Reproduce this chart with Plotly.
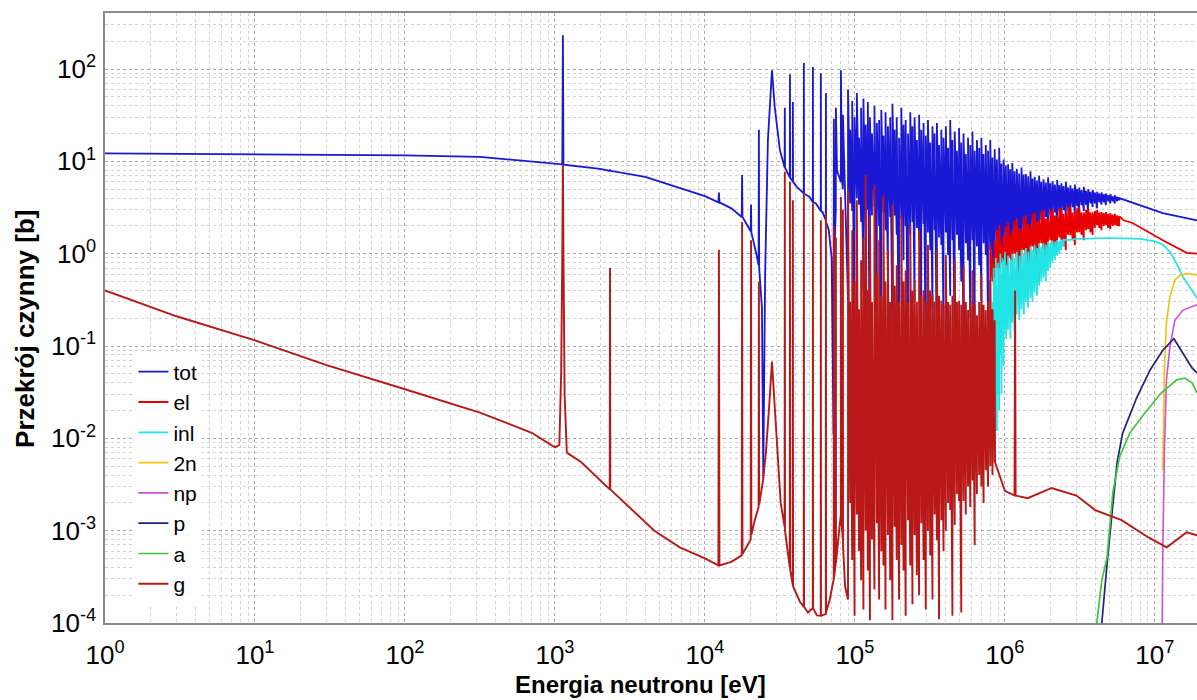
import plotly.graph_objects as go

# ---------------- tick labels ----------------
x_tick_vals = [1e0, 1e1, 1e2, 1e3, 1e4, 1e5, 1e6, 1e7]
x_tick_text = ["10<sup>0</sup>", "10<sup>1</sup>", "10<sup>2</sup>", "10<sup>3</sup>",
               "10<sup>4</sup>", "10<sup>5</sup>", "10<sup>6</sup>", "10<sup>7</sup>"]
y_tick_vals = [1e-4, 1e-3, 1e-2, 1e-1, 1e0, 1e1, 1e2]
y_tick_text = ["10<sup>-4</sup>", "10<sup>-3</sup>", "10<sup>-2</sup>", "10<sup>-1</sup>",
               "10<sup>0</sup>", "10<sup>1</sup>", "10<sup>2</sup>"]

# ---------------- resonance-forest energy grid (eV), 123 resonances ----------------
forest_E = [9.0e4, 9.3e4, 9.6e4, 9.95e4, 1.03e5, 1.065e5, 1.10e5, 1.14e5, 1.18e5, 1.22e5,
            1.26e5, 1.30e5, 1.35e5, 1.40e5, 1.45e5, 1.50e5, 1.55e5, 1.60e5, 1.66e5, 1.72e5,
            1.78e5, 1.84e5, 1.90e5, 1.97e5, 2.04e5, 2.11e5, 2.18e5, 2.26e5, 2.34e5, 2.42e5,
            2.50e5, 2.59e5, 2.68e5, 2.77e5, 2.87e5, 2.97e5, 3.07e5, 3.18e5, 3.29e5, 3.40e5,
            3.52e5, 3.64e5, 3.77e5, 3.90e5, 4.04e5, 4.18e5, 4.32e5, 4.47e5, 4.63e5, 4.79e5,
            4.95e5, 5.12e5, 5.30e5, 5.49e5, 5.68e5, 5.88e5, 6.08e5, 6.29e5, 6.51e5, 6.74e5,
            6.97e5, 7.21e5, 7.46e5, 7.72e5, 7.99e5, 8.27e5, 8.55e5, 8.85e5, 9.16e5, 9.47e5,
            9.80e5, 1.014e6, 1.05e6, 1.085e6, 1.12e6, 1.16e6, 1.20e6, 1.245e6, 1.29e6, 1.335e6,
            1.38e6, 1.43e6, 1.48e6, 1.53e6, 1.58e6, 1.635e6, 1.69e6, 1.75e6, 1.81e6, 1.875e6,
            1.94e6, 2.01e6, 2.08e6, 2.155e6, 2.23e6, 2.305e6, 2.38e6, 2.465e6, 2.55e6, 2.64e6,
            2.73e6, 2.83e6, 2.93e6, 3.03e6, 3.13e6, 3.245e6, 3.36e6, 3.475e6, 3.59e6, 3.72e6,
            3.85e6, 3.985e6, 4.12e6, 4.265e6, 4.41e6, 4.565e6, 4.72e6, 4.885e6, 5.05e6, 5.23e6,
            5.41e6, 5.6e6, 5.79e6]

# ---------------- tot ----------------
tot_low_E = [1, 10, 100, 316, 700, 1.05e3, 1.12e3, 1.13e3, 1.14e3, 2.0e3,
             2.32e3, 2.33e3, 2.34e3, 4.0e3, 6.8e3, 1.0e4, 1.23e4, 1.24e4, 1.25e4, 1.5e4,
             1.76e4, 1.77e4, 1.78e4, 2.02e4, 2.03e4, 2.04e4, 2.2e4, 2.28e4, 2.29e4, 2.30e4,
             2.40e4, 2.45e4, 2.52e4, 2.63e4, 2.80e4, 2.92e4, 3.16e4, 3.40e4, 3.41e4, 3.42e4,
             3.68e4, 3.69e4, 3.70e4, 3.85e4, 3.86e4, 3.87e4, 4.1e4, 4.56e4, 4.57e4, 4.58e4,
             5.0e4, 5.24e4, 5.25e4, 5.26e4, 5.5e4, 5.92e4, 5.93e4, 5.94e4, 6.1e4, 6.40e4,
             6.41e4, 6.42e4, 6.7e4, 7.0e4, 7.2e4, 7.23e4, 7.24e4, 7.3e4, 7.46e4, 7.47e4,
             7.6e4, 8.06e4, 8.07e4, 8.2e4, 8.31e4, 8.32e4, 8.6e4]
tot_low_sig = [12.2, 12.0, 11.6, 11.2, 10.0, 9.4, 9.3, 233, 9.2, 8.3,
               7.9, 8.2, 7.9, 6.8, 5.1, 4.2, 3.6, 4.6, 3.6, 3.1,
               2.5, 7.1, 2.5, 1.75, 3.4, 1.7, 1.0, 0.75, 22, 0.7,
               0.26, 0.0038, 0.6, 17, 97, 39, 13.3, 8.6, 38, 8.5,
               6.7, 88, 6.6, 6.1, 44, 6.0, 5.3, 4.5, 116, 4.5,
               4.1, 3.6, 105, 3.6, 3.5, 2.9, 90, 2.9, 2.8, 2.3,
               55, 2.2, 1.8, 0.9, 0.011, 0.5, 29, 1.0, 3.0, 38,
               8.0, 6.0, 97, 6.3, 5.0, 32, 4.7]
tot_forest_top = [60, 22, 45, 30, 55, 18, 38, 48, 25, 44,
                  30, 20, 40, 26, 28, 36, 19, 34, 24, 30,
                  42, 22, 30, 18, 38, 25, 28, 20, 34, 24,
                  30, 17, 32, 22, 26, 19, 28, 16, 24, 20,
                  26, 15, 22, 18, 24, 14, 28, 17, 21, 13,
                  23, 16, 20, 12, 18, 15, 21, 13, 17, 14,
                  18, 12, 15, 13, 17, 11, 13.5, 10.5, 14, 9.5,
                  10.5, 9.0, 9.3, 8.2, 9.6, 7.8, 8.3, 7.4, 8.6, 7.2,
                  7.3, 6.9, 7.8, 6.5, 6.8, 6.2, 7.0, 6.0, 6.4, 5.9,
                  6.7, 5.8, 6.1, 5.6, 6.3, 5.5, 5.8, 5.4, 6.0, 5.2,
                  5.5, 5.1, 5.6, 5.0, 5.2, 4.9, 5.3, 4.8, 5.0, 4.7,
                  4.9, 4.6, 4.7, 4.5, 4.6, 4.4, 4.5, 4.3, 4.4, 4.2,
                  4.3, 4.1, 4.0]
tot_forest_bot = [0.31, 3.5, 2.9, 0.07, 4.0, 3.4, 2.2, 0.4, 1.4, 3.0,
                  0.022, 2.6, 3.2, 0.19, 2.0, 0.026, 2.8, 1.8, 0.6, 2.5,
                  0.09, 2.6, 1.6, 0.033, 2.4, 0.85, 2.0, 0.043, 1.6, 2.2,
                  0.31, 1.9, 1.4, 0.15, 2.1, 0.046, 1.7, 1.09, 0.25, 1.8,
                  0.07, 1.5, 1.24, 0.149, 1.7, 0.97, 0.35, 1.4, 0.084, 1.6,
                  1.09, 0.5, 0.116, 1.3, 0.85, 0.2, 1.4, 0.107, 1.2, 0.75,
                  0.31, 1.3, 0.97, 0.19, 1.1, 0.66, 0.4, 1.2, 0.5, 0.97,
                  0.52, 1.3, 0.7, 1.4, 0.75, 1.5, 1.0, 1.59, 1.1, 1.7,
                  0.97, 1.8, 1.3, 1.9, 1.09, 2.2, 1.5, 2.3, 1.4, 2.5,
                  1.8, 2.62, 2.0, 2.8, 2.04, 2.9, 2.3, 2.97, 2.5, 3.1,
                  2.31, 3.2, 2.7, 3.3, 2.62, 3.36, 2.9, 3.4, 2.8, 3.5,
                  3.2, 3.5, 3.1, 3.6, 3.4, 3.6, 3.36, 3.7, 3.5, 3.7,
                  3.5, 3.7, 3.8]
tot_high_E = [7.0e6, 9.0e6, 1.13e7, 1.91e7]
tot_high_sig = [3.6, 3.1, 2.75, 2.3]

# ---------------- el (visible above 0.8 MeV) ----------------
el_forest_top = [1.24, 0.9, 1.4, 1.8, 2.04, 1.3, 1.59, 2.0, 2.2, 1.6,
                 1.8, 2.3, 2.4, 1.9, 1.85, 2.5, 2.62, 2.1, 2.04, 2.7,
                 2.8, 2.2, 2.31, 2.9, 2.97, 2.4, 2.4, 3.0, 3.1, 2.6,
                 2.62, 3.1, 3.2, 2.7, 2.75, 3.2, 3.3, 2.8, 2.8, 3.1,
                 3.2, 2.8, 2.8, 3.0, 3.1, 2.8, 2.8, 2.9, 2.97, 2.8,
                 2.82, 2.75, 2.82, 2.7, 2.75, 2.65, 2.7, 2.6, 2.55]
el_forest_bot = [0.149, 0.5, 0.31, 0.7, 0.40, 0.8, 0.52, 0.35, 0.66, 0.9,
                 0.46, 1.0, 0.82, 0.5, 0.59, 1.1, 0.90, 0.7, 0.66, 1.2,
                 0.97, 0.6, 0.49, 1.3, 1.09, 0.8, 0.82, 1.4, 1.24, 1.0,
                 0.97, 1.5, 1.4, 1.2, 1.09, 1.6, 1.59, 1.4, 1.24, 1.7,
                 1.71, 1.6, 1.4, 1.8, 1.85, 1.7, 1.59, 1.9, 2.04, 1.9,
                 1.8, 2.0, 2.04, 1.9, 1.85, 2.0, 2.04, 2.0, 1.98]
el_high_E = [6.2e6, 7.1e6, 1.13e7, 1.63e7, 1.91e7]
el_high_sig = [2.3, 2.15, 1.4, 1.02, 1.0]

# ---------------- inl ----------------
inl_forest_E = [8.30e5, 8.42e5, 8.55e5, 8.70e5, 8.85e5, 9.0e5, 9.16e5, 9.33e5, 9.50e5, 9.65e5,
                9.80e5, 1.0e6, 1.02e6, 1.05e6, 1.09e6, 1.12e6,
                1.16e6, 1.20e6, 1.25e6, 1.29e6, 1.34e6, 1.38e6, 1.43e6, 1.48e6, 1.53e6, 1.58e6,
                1.64e6, 1.69e6, 1.75e6, 1.81e6, 1.88e6, 1.94e6, 2.01e6, 2.08e6, 2.16e6, 2.23e6,
                2.31e6, 2.38e6, 2.47e6]
inl_forest_top = [0.30, 0.7, 0.55, 0.9, 0.45, 0.8, 0.70, 1.0, 0.60, 0.9,
                  0.85, 1.05, 0.75, 0.95, 0.85, 1.0,
                  0.9, 1.05, 0.95, 1.1, 1.0, 1.15, 1.05, 1.2, 1.1, 1.25,
                  1.15, 1.3, 1.2, 1.3, 1.25, 1.35, 1.3, 1.38, 1.35, 1.4,
                  1.38, 1.42, 1.42]
inl_forest_bot = [0.0115, 0.02, 0.010, 0.05, 0.012, 0.03, 0.02, 0.08, 0.03, 0.1,
                  0.06, 0.15, 0.12, 0.15, 0.12, 0.18,
                  0.14, 0.22, 0.19, 0.25, 0.22, 0.30, 0.26, 0.33, 0.30, 0.38,
                  0.35, 0.45, 0.5, 0.55, 0.5, 0.65, 0.7, 0.8, 0.85, 0.95,
                  1.0, 1.1, 1.2]
inl_high_E = [2.6e6, 3.0e6, 5.0e6, 8.0e6, 1.02e7, 1.13e7, 1.26e7, 1.4e7, 1.54e7, 1.91e7]
inl_high_sig = [1.40, 1.45, 1.48, 1.45, 1.35, 1.25, 1.05, 0.78, 0.56, 0.33]

# ---------------- threshold reactions ----------------
n2_E = [1.13e7, 1.145e7, 1.16e7, 1.195e7, 1.26e7, 1.36e7, 1.47e7, 1.63e7, 1.91e7]
n2_sig = [0.0045, 0.018, 0.064, 0.18, 0.34, 0.52, 0.58, 0.61, 0.59]
np_E = [1.11e7, 1.12e7, 1.13e7, 1.16e7, 1.195e7, 1.26e7, 1.36e7, 1.54e7, 1.91e7]
np_sig = [5e-5, 1e-4, 6.6e-4, 0.008, 0.043, 0.098, 0.19, 0.245, 0.28]
p_E = [4.3e6, 4.43e6, 4.8e6, 5.2e6, 5.6e6, 6.1e6, 7.6e6, 9.3e6, 1.13e7, 1.34e7, 1.54e7, 1.77e7, 1.91e7]
p_sig = [5e-5, 1e-4, 4.4e-4, 0.0018, 0.0055, 0.0114, 0.028, 0.055, 0.09, 0.12, 0.084, 0.058, 0.051]
a_E = [4.0e6, 4.1e6, 4.43e6, 4.8e6, 5.25e6, 5.8e6, 6.8e6, 8.4e6, 1.1e7, 1.4e7, 1.58e7, 1.77e7, 1.91e7]
a_sig = [5e-5, 1e-4, 2.9e-4, 5.1e-4, 0.0026, 0.0062, 0.0114, 0.018, 0.031, 0.043, 0.045, 0.04, 0.031]

# ---------------- g (capture) ----------------
g_low_E = [1, 3, 10, 30, 100, 316, 700, 1.0e3, 1.07e3, 1.10e3,
           1.12e3, 1.13e3, 1.14e3, 1.16e3, 1.2e3, 1.5e3, 2.32e3, 2.33e3, 2.34e3, 4.6e3,
           6.8e3, 1.0e4, 1.23e4, 1.24e4, 1.25e4, 1.5e4, 1.76e4, 1.77e4, 1.78e4, 2.02e4,
           2.03e4, 2.04e4, 2.15e4, 2.28e4, 2.29e4, 2.30e4, 2.44e4, 2.55e4, 2.68e4, 2.80e4,
           2.92e4, 3.05e4, 3.2e4, 3.40e4, 3.41e4, 3.42e4, 3.68e4, 3.69e4, 3.70e4, 3.85e4,
           3.86e4, 3.87e4, 4.3e4, 4.56e4, 4.57e4, 4.58e4, 4.86e4, 5.24e4, 5.25e4, 5.26e4,
           5.58e4, 5.92e4, 5.93e4, 5.94e4, 6.40e4, 6.41e4, 6.42e4, 6.8e4, 7.23e4, 7.24e4,
           7.25e4, 7.46e4, 7.47e4, 7.48e4, 7.8e4, 8.06e4, 8.07e4, 8.08e4, 8.31e4, 8.32e4,
           8.33e4, 8.6e4]
g_low_sig = [0.40, 0.21, 0.115, 0.062, 0.034, 0.019, 0.0115, 0.0080, 0.0085, 0.05,
             1.0, 9.0, 1.0, 0.03, 0.0070, 0.0055, 0.0028, 0.70, 0.0028, 0.0010,
             0.00066, 0.0005, 0.00042, 1.1, 0.00042, 0.00046, 0.00054, 2.2, 0.00056, 0.0008,
             1.4, 0.0009, 0.0013, 0.0018, 0.5, 0.0019, 0.0035, 0.007, 0.022, 0.068,
             0.022, 0.006, 0.002, 0.0011, 7.7, 0.001, 0.0004, 6.0, 0.00038, 0.00026,
             3.8, 0.00025, 0.00017, 0.00015, 4.5, 0.00015, 0.00013, 0.000145, 3.5, 0.000145,
             0.000121, 0.00012, 2.3, 0.00012, 0.000125, 2.75, 0.00013, 0.00018, 0.0003, 2.0,
             0.0003, 0.00045, 1.5, 0.00045, 0.0009, 0.0015, 4.1, 0.0015, 0.0008, 3.0,
             0.0007, 0.00025]
g_forest_top = [4.9, 0.3, 1.8, 0.5, 3.8, 0.25, 0.85, 1.5, 7.1, 0.4,
                2.6, 0.3, 5.5, 0.6, 1.4, 0.35, 4.3, 0.5, 1.09, 0.3,
                3.4, 0.45, 0.75, 0.3, 2.6, 0.5, 0.66, 0.3, 2.0, 0.4,
                0.52, 0.3, 1.8, 0.35, 0.40, 0.3, 1.24, 0.4, 0.36, 0.3,
                1.09, 0.35, 0.31, 0.28, 0.97, 0.3, 0.28, 0.35, 0.85, 0.3,
                0.31, 0.28, 0.75, 0.3, 0.245, 0.3, 0.66, 0.28, 0.216, 0.3,
                0.59, 0.28, 0.245, 0.3, 0.52, 0.25, 0.19]
g_forest_bot = [1.8e-4, 2e-3, 4.8e-4, 1.2e-4, 1.5e-3, 6e-4, 2.9e-4, 1.4e-4, 1e-3, 3.7e-4,
                1.07e-4, 8e-4, 2.3e-4, 1.2e-3, 1.8e-4, 6e-4, 4.2e-4, 1.4e-4, 9e-4, 2.9e-4,
                1.07e-4, 1.1e-3, 4.8e-4, 1.8e-4, 7e-4, 3.7e-4, 1.2e-4, 1.3e-3, 4.2e-4, 1.6e-4,
                9e-4, 3.3e-4, 2.0e-4, 1.2e-3, 4.8e-4, 1.4e-4, 1.0e-3, 5.4e-4, 1.8e-4, 1.5e-3,
                7.9e-4, 1.1e-4, 1.3e-3, 6e-4, 1.0e-3, 2e-3, 1.67e-3, 1.2e-4, 1.15e-3, 2.5e-3,
                2.1e-3, 1.3e-4, 2.1e-3, 1.5e-3, 3e-3, 1.8e-3, 3.5e-3, 7e-4, 2.5e-3, 4e-3,
                3e-3, 2e-3, 4.5e-3, 3e-3, 5e-3, 4e-3, 5.5e-3]
g_high_E = [8.6e5, 1.0e6, 1.16e6, 1.17e6, 1.18e6, 1.42e6, 2.05e6, 3.0e6, 4.0e6, 6.0e6,
            9.0e6, 1.2e7, 1.63e7, 1.91e7]
g_high_sig = [0.0055, 0.0027, 0.0024, 0.40, 0.0024, 0.00225, 0.0029, 0.0024, 0.00167, 0.0013,
              0.00085, 0.00066, 0.00096, 0.00089]

# ---------------- colours ----------------
C_TOT = "#1a18d4"
C_EL = "#e80000"
C_INL = "#22e4e4"
C_2N = "#f2c20c"
C_NP = "#d24ed2"
C_P = "#22227e"
C_A = "#3cc83c"
C_G = "#b81818"


def build(low_E, low_s, fE, ftop, fbot, high_E, high_s):
    xs, ys = list(low_E), list(low_s)
    for e, t, b in zip(fE, ftop, fbot):
        xs += [e, e]
        ys += [b, t]
    xs += list(high_E)
    ys += list(high_s)
    return xs, ys


fig = go.Figure()

tx, ty = build(tot_low_E, tot_low_sig, forest_E, tot_forest_top, tot_forest_bot,
               tot_high_E, tot_high_sig)
fig.add_trace(go.Scatter(x=tx, y=ty, mode="lines", name="tot",
                         line=dict(color=C_TOT, width=1.8)))

ex, ey = build([], [], forest_E[64:], el_forest_top, el_forest_bot, el_high_E, el_high_sig)
fig.add_trace(go.Scatter(x=ex, y=ey, mode="lines", name="el",
                         line=dict(color=C_EL, width=1.8)))

ix, iy = build([], [], inl_forest_E, inl_forest_top, inl_forest_bot, inl_high_E, inl_high_sig)
fig.add_trace(go.Scatter(x=ix, y=iy, mode="lines", name="inl",
                         line=dict(color=C_INL, width=1.7)))

fig.add_trace(go.Scatter(x=n2_E, y=n2_sig, mode="lines", name="2n",
                         line=dict(color=C_2N, width=1.6)))
fig.add_trace(go.Scatter(x=np_E, y=np_sig, mode="lines", name="np",
                         line=dict(color=C_NP, width=1.6)))
fig.add_trace(go.Scatter(x=p_E, y=p_sig, mode="lines", name="p",
                         line=dict(color=C_P, width=1.7)))
fig.add_trace(go.Scatter(x=a_E, y=a_sig, mode="lines", name="a",
                         line=dict(color=C_A, width=1.7)))

gx, gy = build(g_low_E, g_low_sig, forest_E[:67], g_forest_top, g_forest_bot,
               g_high_E, g_high_sig)
fig.add_trace(go.Scatter(x=gx, y=gy, mode="lines", name="g",
                         line=dict(color=C_G, width=1.9)))

FONT = "Liberation Sans, Arial, sans-serif"
grid_major = "#a8a8a8"
grid_minor = "#d2d2d2"

fig.update_layout(
    width=1197, height=700,
    margin=dict(l=105, r=0, t=13, b=77),
    paper_bgcolor="white", plot_bgcolor="white",
    font=dict(family=FONT, color="black"),
    showlegend=True,
    legend=dict(x=0.026, y=0.445, xanchor="left", yanchor="top",
                bgcolor="white", borderwidth=0, font=dict(size=21, family=FONT),
                itemwidth=30),
    xaxis=dict(type="log", range=[0, 7.281], tickmode="array",
               tickvals=x_tick_vals, ticktext=x_tick_text,
               tickfont=dict(size=26, family=FONT), ticks="", ticklabelstandoff=8,
               showgrid=True, gridcolor=grid_major, griddash="dot", gridwidth=1,
               minor=dict(dtick="D1", showgrid=True, gridcolor=grid_minor, griddash="dot", gridwidth=1),
               showline=True, linecolor="#8a8a8a", linewidth=1.5, mirror=True, zeroline=False),
    yaxis=dict(type="log", range=[-4, 2.607], tickmode="array",
               tickvals=y_tick_vals, ticktext=y_tick_text,
               tickfont=dict(size=26, family=FONT), ticks="", ticklabelstandoff=2,
               showgrid=True, gridcolor=grid_major, griddash="dot", gridwidth=1,
               minor=dict(dtick="D1", showgrid=True, gridcolor=grid_minor, griddash="dot", gridwidth=1),
               showline=True, linecolor="#8a8a8a", linewidth=1.5, mirror=False, zeroline=False),
    annotations=[
        dict(text="<b>Energia neutronu [eV]</b>", xref="paper", yref="paper",
             x=0.49, y=-0.101, xanchor="center", yanchor="middle", showarrow=False,
             font=dict(size=24, family=FONT, color="black")),
        dict(text="<b>Przekrój czynny [b]</b>", xref="paper", yref="paper",
             x=-0.0733, y=0.482, xanchor="center", yanchor="middle", showarrow=False,
             textangle=-90, font=dict(size=26, family=FONT, color="black")),
    ],
)

fig.write_html("out.html")
